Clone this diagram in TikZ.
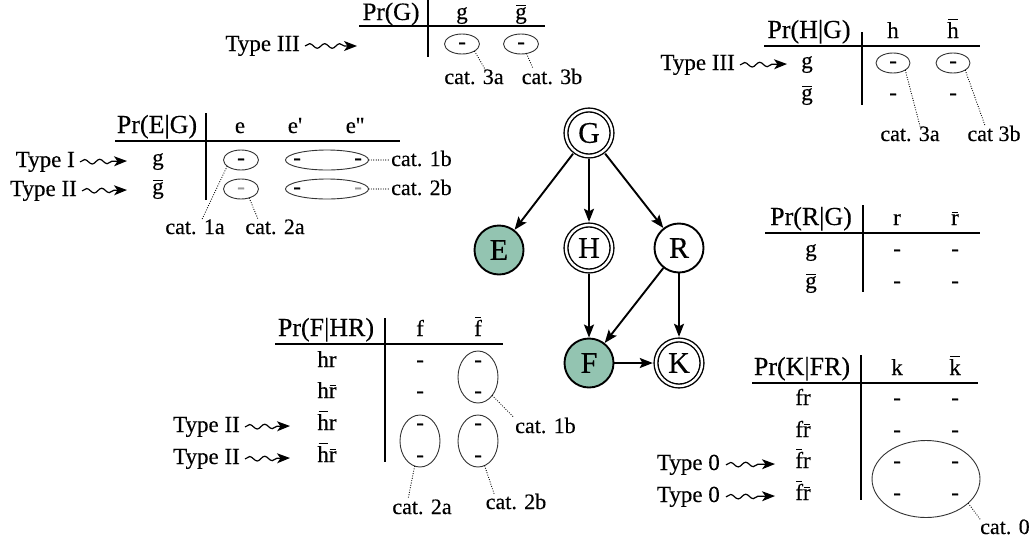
\documentclass[tikz,border=0pt]{standalone}
\usepackage{fontspec}
\setmainfont{Liberation Serif}[FakeBold=0.3]
\usetikzlibrary{shapes.geometric,arrows.meta,decorations.pathmorphing,calc}
\definecolor{tealfill}{RGB}{147,196,177}
\newcommand\ovb[1]{\leavevmode\setbox0=\hbox{#1}\rlap{\kern0.1\wd0\raisebox{\dimexpr\ht0+1.6pt\relax}{\rule{0.8\wd0}{1pt}}}\box0}
\begin{document}
\begin{tikzpicture}[x=1pt,y=-1pt,
  font=\fontsize{23}{27}\selectfont,
  lab/.style={anchor=base,inner sep=0pt},
  cl/.style={anchor=base,inner sep=0pt,font=\fontsize{22}{26}\selectfont},
  hd/.style={anchor=base,inner sep=0pt,font=\fontsize{26}{30}\selectfont},
  tl/.style={anchor=base east,inner sep=0pt},
  lw/.style={anchor=base west,inner sep=0pt,font=\fontsize{22}{26}\selectfont},
  rul/.style={line width=1.6pt},
  ell/.style={draw=black!80,line width=0.9pt,ellipse,inner sep=0pt},
  dots/.style={line width=1.2pt,dash pattern=on 0pt off 2.4pt,line cap=round},
  sq/.style={line width=1.2pt,decorate,decoration={snake,amplitude=2.3pt,segment length=15pt,post length=12pt},-{Stealth[length=13pt,width=10pt,inset=3.5pt]}},
  vtx/.style={circle,draw,line width=1.9pt,minimum size=49pt,inner sep=0pt,font=\fontsize{30}{33}\selectfont},
  dvtx/.style={circle,draw,line width=1.4pt,double,double distance=2.4pt,minimum size=46pt,inner sep=0pt,font=\fontsize{30}{33}\selectfont},
  edg/.style={line width=1.9pt,-{Stealth[length=13pt,width=10pt,inset=2.5pt]}},
]
\useasboundingbox (0,0) rectangle (1032,544);

% ---------------- Table Pr(G)
\draw[rul] (359,26) -- (545,26);
\draw[rul] (428,0) -- (428,57);
\node[hd,font=\fontsize{25}{29}\selectfont] (hG) at (391,20) {Pr(G)};
\node[lab] (hGg) at (462,19) {g};
\node[lab] (hGgb) at (521,19) {\ovb{g}};
\node[ell,minimum width=35pt,minimum height=20pt] (eG1) at (462,44) {};
\node[ell,minimum width=35pt,minimum height=20pt] (eG2) at (521,44) {};
\node[lab] (dG1) at (462,49) {-};
\node[lab] (dG2) at (521,49) {-};
\node[tl] (tG) at (300,51) {Type III};
\coordinate (aG) at (357,46);
\draw[sq] ([xshift=5pt]tG.east) -- (aG);
\node[cl] (c3a) at (474,84) {cat. 3a};
\node[cl] (c3b) at (552,84) {cat. 3b};
\draw[dots] (eG1.south east) -- ([xshift=11pt]c3a.north);
\draw[dots] (eG2.-60) -- ([xshift=-19pt]c3b.north);

% ---------------- Table Pr(H|G)
\draw[rul] (764,46) -- (980,46);
\draw[rul] (862,32) -- (862,105);
\node[hd] (hH) at (809,38) {Pr(H|G)};
\node[lab] (hHh) at (893,38) {h};
\node[lab] (hHhb) at (953,38) {\ovb{h}};
\node[lab] (rH1) at (807,68) {g};
\node[lab] (rH2) at (807,100) {\ovb{g}};
\node[ell,minimum width=34pt,minimum height=20pt] (eH1) at (893,63) {};
\node[ell,minimum width=34pt,minimum height=20pt] (eH2) at (953,63) {};
\node[lab] (dH11) at (893,68) {-};
\node[lab] (dH12) at (953,68) {-};
\node[lab] (dH21) at (893,100) {-};
\node[lab] (dH22) at (953,100) {-};
\node[tl] (tH) at (735,70) {Type III};
\coordinate (aH) at (787,64);
\draw[sq] ([xshift=5pt]tH.east) -- (aH);
\node[cl] (c3aH) at (910,141) {cat. 3a};
\node[cl] (c3bH) at (994,141) {cat 3b};
\draw[dots] (eH1.south east) -- ([xshift=10pt]c3aH.north);
\draw[dots] (eH2.south east) -- ([xshift=-9pt]c3bH.north);

% ---------------- Table Pr(E|G)
\draw[rul] (115,141) -- (400,141);
\draw[rul] (206,113) -- (206,200);
\node[hd] (hE) at (157,133) {Pr(E|G)};
\node[lab] (hEe) at (240,133) {e};
\node[lab] (hEe1) at (295,133) {e\textquotesingle};
\node[lab] (hEe2) at (355,133) {e\textquotesingle\textquotesingle};
\node[lab] (rE1) at (158,165) {g};
\node[lab] (rE2) at (158,194) {\ovb{g}};
\node[ell,minimum width=35pt,minimum height=20pt] (eE1) at (241,160) {};
\node[ell,minimum width=35pt,minimum height=20pt] (eE2) at (241,189) {};
\node[ell,minimum width=83pt,minimum height=20pt] (eL1) at (327,160) {};
\node[ell,minimum width=83pt,minimum height=20pt] (eL2) at (327,189) {};
\node[lab] (dE11) at (241,165) {-};
\node[lab] (dE12) at (297,165) {-};
\node[lab] (dE13) at (358,165) {-};
\node[lab,text=black!40] (dE21) at (241,194) {-};
\node[lab] (dE22) at (297,194) {-};
\node[lab,text=black!40] (dE23) at (358,194) {-};
\node[tl] (tE1) at (75,167) {Type I};
\node[tl] (tE2) at (77,196) {Type II};
\coordinate (aE1) at (127,161);
\coordinate (aE2) at (127,190);
\draw[sq] ([xshift=5pt]tE1.east) -- (aE1);
\draw[sq] ([xshift=5pt]tE2.east) -- (aE2);
\node[lw] (c1b) at (391,166) {cat. 1b};
\node[lw] (c2b) at (391,195) {cat. 2b};
\draw[dots] (eL1.east) -- ($(eL1.east -| c1b.west)+(-2,0)$);
\draw[dots] (eL2.east) -- ($(eL2.east -| c2b.west)+(-2,0)$);
\node[cl] (c1a) at (195,234) {cat. 1a};
\node[cl] (c2a) at (275,234) {cat. 2a};
\draw[dots] (eE1.205) -- ([xshift=7pt]c1a.north);
\draw[dots] (eE2.-48) -- ([xshift=-17pt]c2a.north);

% ---------------- Table Pr(R|G)
\draw[rul] (765,233) -- (980,233);
\draw[rul] (863,205) -- (863,292);
\node[hd] (hR) at (811,225) {Pr(R|G)};
\node[lab] (hRr) at (897,225) {r};
\node[lab] (hRrb) at (955,225) {\ovb{r}};
\node[lab] (rR1) at (811,256) {g};
\node[lab] (rR2) at (811,288) {\ovb{g}};
\node[lab] (dR11) at (897,256) {-};
\node[lab] (dR12) at (955,256) {-};
\node[lab] (dR21) at (897,288) {-};
\node[lab] (dR22) at (955,288) {-};

% ---------------- Table Pr(F|HR)
\draw[rul] (275,344) -- (503,344);
\draw[rul] (385,318) -- (385,462);
\node[hd] (hF) at (326,336) {Pr(F|HR)};
\node[lab] (hFf) at (420,336) {f};
\node[lab] (hFfb) at (478,336) {\ovb{f}};
\node[lab] (rF1) at (327,367) {hr};
\node[lab] (rF2) at (327,398) {h\ovb{r}};
\node[lab] (rF3) at (327,430) {\ovb{h}r};
\node[lab] (rF4) at (327,462) {\ovb{h}\ovb{r}};
\node[lab] (dF11) at (420,367) {-};
\node[lab] (dF12) at (478,367) {-};
\node[lab] (dF21) at (420,398) {-};
\node[lab] (dF22) at (478,398) {-};
\node[lab] (dF31) at (420,430) {-};
\node[lab] (dF32) at (478,430) {-};
\node[lab] (dF41) at (420,462) {-};
\node[lab] (dF42) at (478,462) {-};
\node[ell,minimum width=40pt,minimum height=52pt] (eF1) at (478,377) {};
\node[ell,minimum width=40pt,minimum height=52pt] (eF2) at (420,441) {};
\node[ell,minimum width=40pt,minimum height=52pt] (eF3) at (478,441) {};
\node[tl] (tF1) at (240,432) {Type II};
\node[tl] (tF2) at (240,464) {Type II};
\coordinate (aF1) at (290,426);
\coordinate (aF2) at (290,458);
\draw[sq] ([xshift=5pt]tF1.east) -- (aF1);
\draw[sq] ([xshift=5pt]tF2.east) -- (aF2);
\node[lw] (c1bF) at (515,433) {cat. 1b};
\node[cl] (c2aF) at (422,514) {cat. 2a};
\node[cl] (c2bF) at (516,509) {cat. 2b};
\draw[dots] (eF1.south east) -- ([xshift=-1pt]c1bF.north west);
\draw[dots] (eF2.-102) -- ([xshift=-14pt]c2aF.north);
\draw[dots] (eF3.-75) -- ([xshift=-22pt]c2bF.north);

% ---------------- Table Pr(K|FR)
\draw[rul] (752,383) -- (978,383);
\draw[rul] (861,355) -- (861,500);
\node[hd] (hK) at (802,375) {Pr(K|FR)};
\node[lab] (hKk) at (897,375) {k};
\node[lab] (hKkb) at (955,375) {\ovb{k}};
\node[lab] (rK1) at (803,405) {fr};
\node[lab] (rK2) at (803,437) {f\ovb{r}};
\node[lab] (rK3) at (803,468) {\ovb{f}r};
\node[lab] (rK4) at (803,500) {\ovb{f}\ovb{r}};
\node[lab] (dK11) at (897,405) {-};
\node[lab] (dK12) at (955,405) {-};
\node[lab] (dK21) at (897,437) {-};
\node[lab] (dK22) at (955,437) {-};
\node[lab] (dK31) at (897,468) {-};
\node[lab] (dK32) at (955,468) {-};
\node[lab] (dK41) at (897,500) {-};
\node[lab] (dK42) at (955,500) {-};
\node[ell,minimum width=108pt,minimum height=77pt] (eK) at (926,479) {};
\node[tl] (tK1) at (720,470) {Type 0};
\node[tl] (tK2) at (720,502) {Type 0};
\coordinate (aK1) at (775,464);
\coordinate (aK2) at (775,496);
\draw[sq] ([xshift=6pt]tK1.east) -- (aK1);
\draw[sq] ([xshift=6pt]tK2.east) -- (aK2);
\node[lw] (c0) at (980,534) {cat. 0};
\draw[dots] (eK.-30) -- (c0.north west);

% ---------------- Graph
\node[dvtx] (G) at (589,133) {G};
\node[vtx,fill=tealfill] (E) at (499,250) {E};
\node[dvtx] (H) at (589,248) {H};
\node[vtx] (R) at (679,248) {R};
\node[vtx,fill=tealfill] (F) at (589,363) {F};
\node[dvtx] (K) at (679,363) {K};
\draw[edg,shorten <=2.5pt] (G) -- (E);
\draw[edg,shorten <=2.5pt,shorten >=2.5pt] (G) -- (H);
\draw[edg,shorten <=2.5pt] (G) -- (R);
\draw[edg,shorten <=2.5pt] (H) -- (F);
\draw[edg] (R) -- (F);
\draw[edg,shorten >=2.5pt] (R) -- (K);
\draw[edg,shorten >=2.5pt] (F) -- (K);
\end{tikzpicture}
\end{document}
